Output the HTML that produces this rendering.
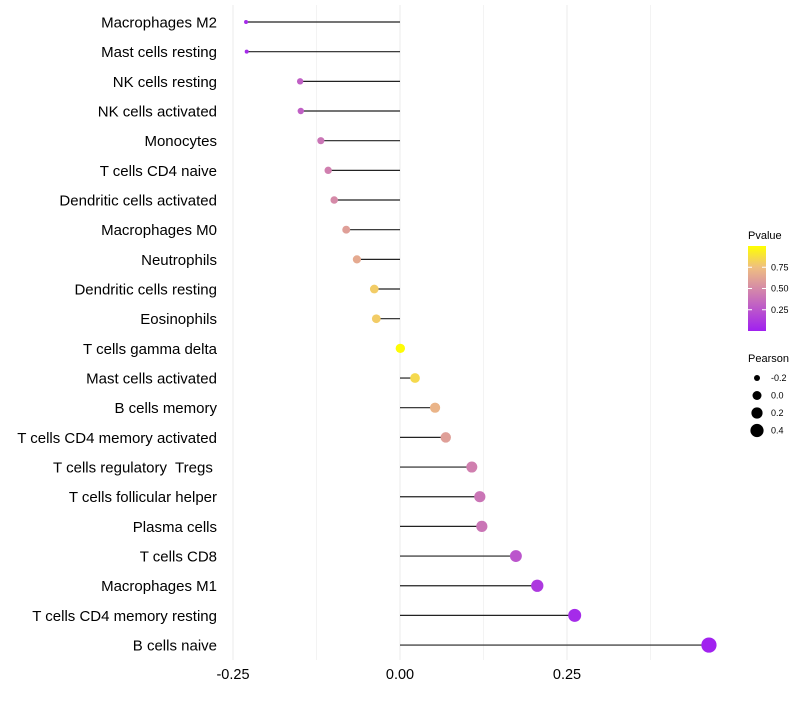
<!DOCTYPE html>
<html><head><meta charset="utf-8"><style>
body{margin:0;background:#fff;font-family:"Liberation Sans",sans-serif}
svg text{font-family:"Liberation Sans",sans-serif;white-space:pre}
</style></head><body>
<svg id="chart" width="800" height="700"></svg>
<script>
const categories=["Macrophages M2","Mast cells resting","NK cells resting","NK cells activated","Monocytes","T cells CD4 naive","Dendritic cells activated","Macrophages M0","Neutrophils","Dendritic cells resting","Eosinophils","T cells gamma delta","Mast cells activated","B cells memory","T cells CD4 memory activated","T cells regulatory  Tregs ","T cells follicular helper","Plasma cells","T cells CD8","Macrophages M1","T cells CD4 memory resting","B cells naive"];
const pearson=[-0.232,-0.231,-0.151,-0.150,-0.120,-0.109,-0.100,-0.082,-0.066,-0.040,-0.037,-0.001,0.021,0.051,0.067,0.106,0.118,0.121,0.172,0.204,0.260,0.461];
const pvalue=[0.05,0.05,0.3,0.3,0.4,0.45,0.5,0.6,0.65,0.8,0.8,0.99,0.85,0.7,0.6,0.45,0.4,0.4,0.25,0.12,0.05,0.01];
const xTicks=[-0.25,0,0.25];
const xTickLabels=["-0.25","0.00","0.25"];
const NS="http://www.w3.org/2000/svg";
const svg=document.getElementById('chart');
function X(v){return 400+v*668;}
function Y(i){return 22+i*29.67;}
function R(v){return Math.sqrt(Math.max(2.5,22+78*v));}
const stops=[[0,[160,32,240]],[0.5,[213,138,168]],[0.75,[239,191,128]],[1,[255,255,0]]];
function col(p){for(let k=1;k<stops.length;k++){if(p<=stops[k][0]){const a=stops[k-1],b=stops[k],t=(p-a[0])/(b[0]-a[0]);return 'rgb('+a[1].map((c,j)=>Math.round(c+(b[1][j]-c)*t)).join(',')+')';}}return 'rgb(255,255,0)';}
function el(t,a){const e=document.createElementNS(NS,t);for(const k in a)e.setAttribute(k,a[k]);svg.appendChild(e);return e;}
[-0.25,-0.125,0,0.125,0.25,0.375].forEach(v=>{
 const g=el('line',{x1:X(v),x2:X(v),y1:5,y2:660,stroke:'#ebebeb','stroke-width':Math.abs(v*8)%2===0?1:0.6});
 
 
});
xTicks.forEach((v,i)=>{
 const t=el('text',{x:X(v),y:679,'text-anchor':'middle','font-size':14.5,fill:'#000'});
 t.textContent=xTickLabels[i];
 
 
});
categories.forEach((c,i)=>{
 const y=Y(i);
 const t=el('text',{x:217,y:y+5.5,'text-anchor':'end','font-size':15,fill:'#000'});
 t.textContent=c;
 
 
 const s=el('line',{x1:X(0),x2:X(pearson[i]),y1:y,y2:y,stroke:'#222','stroke-width':1.2});
 
 
 const d=el('circle',{cx:X(pearson[i])+1,cy:y,r:R(pearson[i]),fill:col(pvalue[i])});
 
 
});
const defs=el('defs',{});
defs.innerHTML='<linearGradient id="pg" x1="0" y1="1" x2="0" y2="0"><stop offset="0" stop-color="rgb(160,32,240)"/><stop offset="0.5" stop-color="rgb(213,138,168)"/><stop offset="0.75" stop-color="rgb(239,191,128)"/><stop offset="1" stop-color="rgb(255,255,0)"/></linearGradient>';
let lt=el('text',{x:748,y:239,'font-size':11});lt.textContent='Pvalue';


const cb=el('rect',{x:748,y:246,width:18,height:85,fill:'url(#pg)'});


[[0.75,'0.75'],[0.5,'0.50'],[0.25,'0.25']].forEach(([v,s])=>{
 const y=331-v*85;
 el('line',{x1:748,x2:752,y1:y,y2:y,stroke:'#fff'});el('line',{x1:762,x2:766,y1:y,y2:y,stroke:'#fff'});
 const t=el('text',{x:771,y:y+3,'font-size':9});t.textContent=s;
 
 
});
lt=el('text',{x:748,y:362,'font-size':11});lt.textContent='Pearson';


[[-0.2,'-0.2',3],[0,'0.0',4.5],[0.2,'0.2',5.6],[0.4,'0.4',6.6]].forEach(([v,s,r],i)=>{
 const y=378+i*17.5;
 const c=el('circle',{cx:757,cy:y,r:r,fill:'#000'});
 
 
 const t=el('text',{x:771,y:y+3,'font-size':9});t.textContent=s;
 
 
});
</script>
</body></html>
